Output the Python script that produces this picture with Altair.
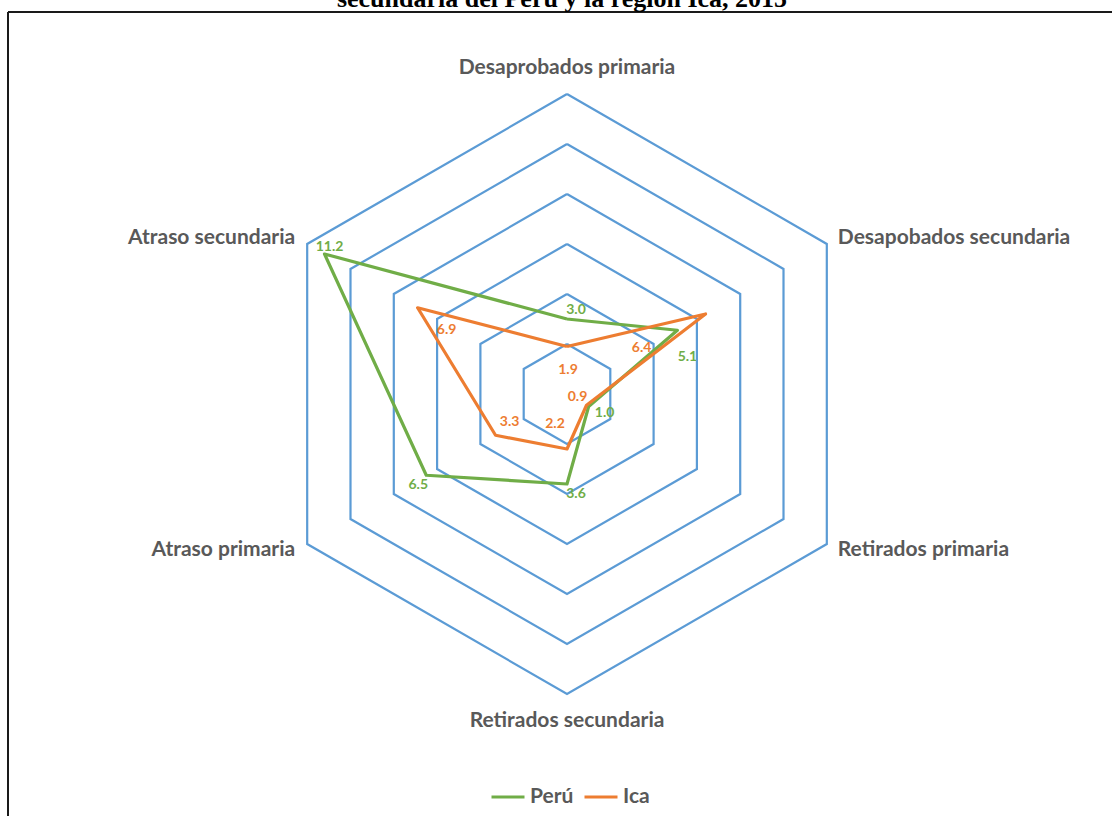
import math

import altair as alt
import pandas as pd

# ---- data -------------------------------------------------------------
categories = [
    "Desaprobados primaria",
    "Desapobados secundaria",
    "Retirados primaria",
    "Retirados secundaria",
    "Atraso primaria",
    "Atraso secundaria",
]
peru = [3.0, 5.1, 1.0, 3.6, 6.5, 11.2]
ica = [1.9, 6.4, 0.9, 2.2, 3.3, 6.9]
series_names = ["Perú", "Ica"]
grid_levels = [2, 4, 6, 8, 10, 12]
title_line = "secundaria del Perú y la región Ica, 2015"

# ---- look -------------------------------------------------------------
GRID_BLUE = "#5B9BD5"
GREEN = "#70AD47"
ORANGE = "#ED7D31"
TEXT_GREY = "#595959"
LABEL_FONT = "Lato"
W, H = 1112, 816

# pixel nudges for the value labels (one per spoke)
peru_label_dx = [9, 10, 16, 9, -8, 5]
peru_label_dy = [-9, 27, 6, 10, 10, -7]
ica_label_dx = [1, -64, -9, -12, 14, 29]
ica_label_dy = [23, 34, -8, -25, -13, 22]

# spoke label placement: (align, dx, dy) relative to the outer vertex
spoke_label_place = [
    ("center", 0, -20),
    ("left", 11, 0),
    ("left", 11, 12),
    ("center", 0, 33),
    ("right", -12, 12),
    ("right", -12, 0),
]

# ---- geometry ---------------------------------------------------------
n = len(categories)
angles = [math.radians(90 - 360 / n * i) for i in range(n)]


def polar(v, i):
    return v * math.cos(angles[i]), v * math.sin(angles[i])


grid_rows = []
for lv in grid_levels:
    for k in range(n + 1):
        x, y = polar(lv, k % n)
        grid_rows.append({"level": lv, "k": k, "x": x, "y": y})
grid_df = pd.DataFrame(grid_rows)

series_rows = []
for name, vals in zip(series_names, [peru, ica]):
    for k in range(n + 1):
        i = k % n
        x, y = polar(vals[i], i)
        series_rows.append({"serie": name, "k": k, "x": x, "y": y, "v": vals[i]})
series_df = pd.DataFrame(series_rows)

# 25 px per unit, centre of the web at (567, 394)
x_scale = alt.Scale(domain=[-567 / 25, (W - 567) / 25], nice=False, zero=False)
y_scale = alt.Scale(domain=[-(H - 394) / 25, 394 / 25], nice=False, zero=False)
X = alt.X("x:Q", scale=x_scale, axis=None)
Y = alt.Y("y:Q", scale=y_scale, axis=None)
color_scale = alt.Scale(domain=series_names, range=[GREEN, ORANGE])

grid = (
    alt.Chart(grid_df)
    .mark_line(color=GRID_BLUE, strokeWidth=2.2, strokeJoin="miter")
    .encode(x=X, y=Y, detail="level:N", order="k:Q")
)

lines = (
    alt.Chart(series_df)
    .mark_line(strokeWidth=3.2, strokeJoin="round")
    .encode(
        x=X,
        y=Y,
        order="k:Q",
        color=alt.Color(
            "serie:N",
            scale=color_scale,
            legend=alt.Legend(
                title=None,
                orient="none",
                direction="horizontal",
                legendX=490,
                legendY=779,
                padding=0,
                symbolType="stroke",
                symbolSize=1089,
                symbolStrokeWidth=3,
                labelFont=LABEL_FONT,
                labelFontSize=21,
                labelFontWeight="bold",
                labelColor=TEXT_GREY,
                labelOffset=4,
                columnPadding=4,
            ),
        ),
    )
)

value_layers = []
for name, vals, dxs, dys, col in [
    ("Perú", peru, peru_label_dx, peru_label_dy, GREEN),
    ("Ica", ica, ica_label_dx, ica_label_dy, ORANGE),
]:
    for i in range(n):
        x, y = polar(vals[i], i)
        df = pd.DataFrame({"x": [x], "y": [y], "lab": [f"{vals[i]:.1f}"]})
        value_layers.append(
            alt.Chart(df)
            .mark_text(
                font=LABEL_FONT,
                fontSize=14,
                fontWeight="bold",
                color=col,
                align="center",
                baseline="middle",
                dx=dxs[i],
                dy=dys[i],
            )
            .encode(x=X, y=Y, text="lab:N")
        )

spoke_layers = []
for i, cat in enumerate(categories):
    x, y = polar(grid_levels[-1], i)
    align, dx, dy = spoke_label_place[i]
    df = pd.DataFrame({"x": [x], "y": [y], "cat": [cat]})
    spoke_layers.append(
        alt.Chart(df)
        .mark_text(
            font=LABEL_FONT,
            fontSize=21,
            fontWeight="bold",
            color=TEXT_GREY,
            align=align,
            baseline="alphabetic",
            dx=dx,
            dy=dy,
        )
        .encode(x=X, y=Y, text="cat:N")
    )

one = pd.DataFrame({"a": [0]})
frame_top = alt.Chart(one).mark_rule(color="#1a1a1a", strokeWidth=2).encode(
    x=alt.value(8), x2=alt.value(W), y=alt.value(12)
)
frame_left = alt.Chart(one).mark_rule(color="#1a1a1a", strokeWidth=2).encode(
    x=alt.value(8), y=alt.value(12), y2=alt.value(H)
)

heading = (
    alt.Chart(pd.DataFrame({"t": [title_line]}))
    .mark_text(
        font="Liberation Serif",
        fontSize=26,
        fontWeight="bold",
        color="#000000",
        align="center",
        baseline="alphabetic",
    )
    .encode(x=alt.value(562), y=alt.value(7), text="t:N")
)

chart = (
    alt.layer(grid, *spoke_layers, lines, *value_layers, frame_top, frame_left, heading)
    .properties(
        width=W,
        height=H,
        padding=0,
        autosize=alt.AutoSizeParams(type="none"),
        background="white",
    )
    .configure_view(stroke=None)
)

chart.save("out.html", embed_options={"renderer": "svg", "actions": False})
